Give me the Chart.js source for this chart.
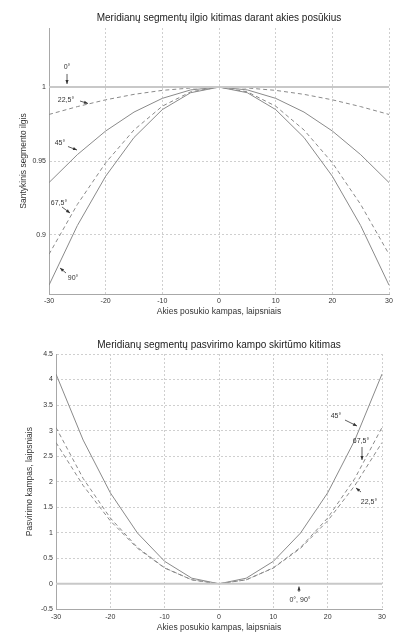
<!DOCTYPE html>
<html>
<head>
<meta charset="utf-8">
<script src="https://cdn.jsdelivr.net/npm/chart.js@4.4.1/dist/chart.umd.min.js"></script>
<style>
  html, body { margin: 0; padding: 0; background: #fff; }
  .box { position: absolute; left: 0; width: 403px; }
  #b1 { top: 0; height: 320px; }
  #b2 { top: 320px; height: 313px; }
  canvas { display: block; }
</style>
</head>
<body>
<div class="box" id="b1"><canvas id="c1" width="403" height="320"></canvas></div>
<div class="box" id="b2"><canvas id="c2" width="403" height="313"></canvas></div>
<script>
// ---- data ----
const angles = [-30, -25, -20, -15, -10, -5, 0, 5, 10, 15, 20, 25, 30];
const xTicks = [-30, -20, -10, 0, 10, 20, 30];

// Top chart: relative segment length
const len0   = [1, 1, 1, 1, 1, 1, 1, 1, 1, 1, 1, 1, 1];
const len225 = [0.9815, 0.9868, 0.9914, 0.9951, 0.9978, 0.9994, 1, 0.9994, 0.9978, 0.9951, 0.9914, 0.9868, 0.9815];
const len45  = [0.9354, 0.9543, 0.9703, 0.9831, 0.9924, 0.9981, 1, 0.9981, 0.9924, 0.9831, 0.9703, 0.9543, 0.9354];
const len675 = [0.8869, 0.9206, 0.9488, 0.9710, 0.9871, 0.9968, 1, 0.9968, 0.9871, 0.9710, 0.9488, 0.9206, 0.8869];
const len90  = [0.8660, 0.9063, 0.9397, 0.9659, 0.9848, 0.9962, 1, 0.9962, 0.9848, 0.9659, 0.9397, 0.9063, 0.8660];
const yTicksTop = [0.9, 0.95, 1];
const yTickLabelsTop = ['0.9', '0.95', '1'];

// Bottom chart: slope angle difference, degrees
const dif0_90 = [0, 0, 0, 0, 0, 0, 0, 0, 0, 0, 0, 0, 0];
const dif225  = [2.766, 1.924, 1.232, 0.694, 0.308, 0.077, 0, 0.077, 0.308, 0.694, 1.232, 1.924, 2.766];
const dif45   = [4.107, 2.814, 1.781, 0.993, 0.439, 0.109, 0, 0.109, 0.439, 0.993, 1.781, 2.814, 4.107];
const dif675  = [3.061, 2.062, 1.288, 0.711, 0.312, 0.077, 0, 0.077, 0.312, 0.711, 1.288, 2.062, 3.061];
const yTicksBottom = [-0.5, 0, 0.5, 1, 1.5, 2, 2.5, 3, 3.5, 4, 4.5];
const yTickLabelsBottom = ['-0.5', '0', '0.5', '1', '1.5', '2', '2.5', '3', '3.5', '4', '4.5'];

// annotation labels (text, text position, arrow from -> to), in data units
const notesTop = [
  { t: '0°',    x: -26.82, y: 1.0136, ax1: -26.82, ay1: 1.0089, ax2: -26.82, ay2: 1.0021 },
  { t: '22,5°', x: -27.0,  y: 0.9913, ax1: -24.53, ay1: 0.9906, ax2: -23.12, ay2: 0.9889 },
  { t: '45°',   x: -28.06, y: 0.9622, ax1: -26.65, ay1: 0.9598, ax2: -25.06, ay2: 0.9574 },
  { t: '67,5°', x: -28.24, y: 0.9216, ax1: -27.71, ay1: 0.9189, ax2: -26.29, ay2: 0.9148 },
  { t: '90°',   x: -25.76, y: 0.8708, ax1: -27.0,  ay1: 0.8742, ax2: -28.06, ay2: 0.8776 }
];
const notesBottom = [
  { t: '45°',     x: 21.53, y: 3.286,  ax1: 23.19, ay1: 3.207,  ax2: 25.40, ay2: 3.090 },
  { t: '67,5°',   x: 26.14, y: 2.796,  ax1: 26.32, ay1: 2.679,  ax2: 26.32, ay2: 2.424 },
  { t: '22,5°',   x: 27.61, y: 1.601,  ax1: 26.14, ay1: 1.797,  ax2: 25.21, ay2: 1.876 },
  { t: '0°, 90°', x: 14.91, y: -0.318, ax1: 14.72, ay1: -0.161, ax2: 14.72, ay2: -0.054 }
];

// ---- helpers ----
const FONT = "'Liberation Sans', Arial, sans-serif";
const pts = (ys) => angles.map((a, i) => ({ x: a, y: ys[i] }));

const notesPlugin = {
  id: 'notes',
  afterDatasetsDraw(chart, args, opts) {
    const ctx = chart.ctx, xs = chart.scales.x, ys = chart.scales.y;
    ctx.save();
    ctx.font = '7px ' + FONT;
    ctx.fillStyle = '#333';
    ctx.strokeStyle = '#333';
    ctx.textAlign = 'center';
    ctx.textBaseline = 'middle';
    (opts.items || []).forEach(n => {
      ctx.fillText(n.t, xs.getPixelForValue(n.x), ys.getPixelForValue(n.y));
      const x1 = xs.getPixelForValue(n.ax1), y1 = ys.getPixelForValue(n.ay1);
      const x2 = xs.getPixelForValue(n.ax2), y2 = ys.getPixelForValue(n.ay2);
      ctx.lineWidth = 0.8;
      ctx.beginPath(); ctx.moveTo(x1, y1); ctx.lineTo(x2, y2); ctx.stroke();
      const ang = Math.atan2(y2 - y1, x2 - x1), L = 4, W = 1.6;
      ctx.beginPath();
      ctx.moveTo(x2, y2);
      ctx.lineTo(x2 - L * Math.cos(ang) + W * Math.sin(ang), y2 - L * Math.sin(ang) - W * Math.cos(ang));
      ctx.lineTo(x2 - L * Math.cos(ang) - W * Math.sin(ang), y2 - L * Math.sin(ang) + W * Math.cos(ang));
      ctx.closePath(); ctx.fill();
    });
    ctx.restore();
  }
};

function ds(ys, opt) {
  return Object.assign({
    data: pts(ys), borderColor: '#8a8a8a', borderWidth: 1, pointRadius: 0,
    tension: 0, fill: false
  }, opt);
}

function makeChart(id, cfg) {
  return new Chart(document.getElementById(id), {
    type: 'line',
    data: { datasets: cfg.datasets },
    options: {
      responsive: false, animation: false,
      layout: { padding: { left: 0, right: cfg.padRight, top: 0, bottom: 0 } },
      plugins: {
        legend: { display: false }, tooltip: { enabled: false },
        title: {
          display: true, fullSize: false, text: cfg.title, color: '#222',
          font: { family: FONT, size: 10, weight: 'normal', lineHeight: 1.2 },
          padding: { top: cfg.titleTop, bottom: cfg.titleBottom }
        },
        notes: { items: cfg.notes }
      },
      scales: {
        x: {
          type: 'linear', min: -30, max: 30,
          afterBuildTicks: (ax) => { ax.ticks = xTicks.map(v => ({ value: v })); },
          afterFit: (ax) => { ax.height = cfg.xHeight; },
          ticks: { color: '#333', padding: cfg.xTickPad, maxRotation: 0, autoSkip: false,
                   font: { family: FONT, size: 7 }, callback: (v) => String(v) },
          grid: { color: '#cfcfcf', lineWidth: 1, drawTicks: false },
          border: { display: true, color: '#a8a8a8', width: 1, dash: [2, 2] },
          title: { display: true, text: 'Akies posukio kampas, laipsniais', color: '#333',
                   font: { family: FONT, size: 8.5, lineHeight: 1.2 },
                   padding: { top: 0, bottom: cfg.xTitlePad } }
        },
        y: {
          type: 'linear', min: cfg.yMin, max: cfg.yMax,
          afterBuildTicks: (ax) => { ax.ticks = cfg.yTicks.map(v => ({ value: v })); },
          afterFit: (ax) => { ax.width = cfg.yWidth; },
          ticks: { color: '#333', padding: 3, autoSkip: false,
                   font: { family: FONT, size: 7 },
                   callback: (v) => { const i = cfg.yTicks.indexOf(v); return i >= 0 ? cfg.yLabels[i] : ''; } },
          grid: { color: '#cfcfcf', lineWidth: 1, drawTicks: false },
          border: { display: true, color: '#a8a8a8', width: 1, dash: [2, 2] },
          title: { display: true, text: cfg.yTitle, color: '#333',
                   font: { family: FONT, size: 8.5, lineHeight: 1.2 },
                   padding: { top: cfg.yTitlePad, bottom: 0 } }
        }
      }
    },
    plugins: [notesPlugin]
  });
}

makeChart('c1', {
  title: 'Meridianų segmentų ilgio kitimas darant akies posūkius',
  titleTop: 12, titleBottom: 4,
  padRight: 14, xHeight: 26, yWidth: 49, xTickPad: 3, xTitlePad: 3, yTitlePad: 19,
  yMin: 0.86, yMax: 1.04, yTicks: yTicksTop, yLabels: yTickLabelsTop,
  yTitle: 'Santykinis segmento ilgis',
  notes: notesTop,
  datasets: [
    ds(len0,   { borderColor: '#c8c8c8', borderWidth: 2 }),
    ds(len225, { borderDash: [4, 3] }),
    ds(len45,  {}),
    ds(len675, { borderDash: [4, 3] }),
    ds(len90,  {})
  ]
});

makeChart('c2', {
  title: 'Meridianų segmentų pasvirimo kampo skirtūmo kitimas',
  titleTop: 19, titleBottom: 3,
  padRight: 21, xHeight: 23.7, yWidth: 56, xTickPad: 4, xTitlePad: 0.6, yTitlePad: 25,
  yMin: -0.5, yMax: 4.5, yTicks: yTicksBottom, yLabels: yTickLabelsBottom,
  yTitle: 'Pasvirimo kampas, laipsniais',
  notes: notesBottom,
  datasets: [
    ds(dif0_90, { borderColor: '#c8c8c8', borderWidth: 2 }),
    ds(dif225,  { borderDash: [4, 3] }),
    ds(dif45,   {}),
    ds(dif675,  { borderDash: [4, 3] })
  ]
});
</script>
</body>
</html>
